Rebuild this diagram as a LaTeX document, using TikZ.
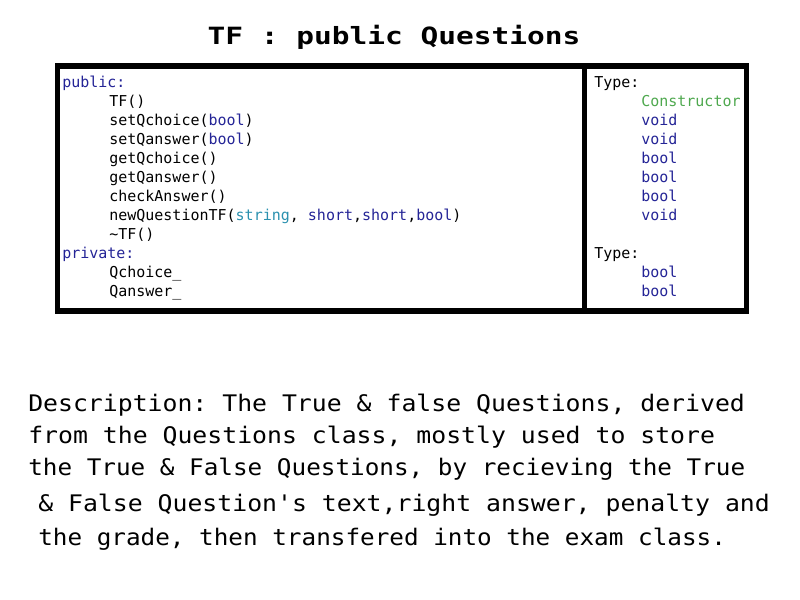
\documentclass[tikz,border=0pt]{standalone}
\usepackage{fontspec}
\usepackage{graphicx}
\setmonofont{DejaVu Sans Mono}
\definecolor{kw}{RGB}{36,36,150}
\definecolor{ty}{RGB}{43,145,175}
\definecolor{ctor}{RGB}{78,168,78}
\tikzset{
  code/.style={anchor=base west, inner sep=0pt, font=\ttfamily\fontsize{11.25pt}{13pt}\selectfont},
  desc/.style={anchor=base west, inner sep=0pt, font=\ttfamily\fontsize{18.6pt}{22pt}\selectfont},
  frame/.style={line width=3.8pt}
}
\begin{document}
\begin{tikzpicture}[x=0.75pt,y=-0.75pt]
\useasboundingbox (0,0) rectangle (800,600);
% title
\node[anchor=base, inner sep=0pt, font=\ttfamily\bfseries\fontsize{18.75pt}{22pt}\selectfont] (title) at (394,44) {\scalebox{1.18}[0.95]{TF : public Questions}};
% box
\draw[frame] (57.5,66) rectangle (746.5,311);
\coordinate (dtop) at (584.5,66);
\coordinate (dbot) at (584.5,311);
\draw[frame] (dtop) -- (dbot);
% left column
\node[code, text=kw] (pub) at (62,87) {public:};
\node[code] (m1) at (109,106) {TF()};
\node[code] (m2) at (109,125) {setQchoice(\textcolor{kw}{bool})};
\node[code] (m3) at (109,144) {setQanswer(\textcolor{kw}{bool})};
\node[code] (m4) at (109,163) {getQchoice()};
\node[code] (m5) at (109,182) {getQanswer()};
\node[code] (m6) at (109,201) {checkAnswer()};
\node[code] (m7) at (109,220) {newQuestionTF(\textcolor{ty}{string}, \textcolor{kw}{short},\textcolor{kw}{short},\textcolor{kw}{bool})};
\node[code] (m8) at (109,239) {\textasciitilde TF()};
\node[code, text=kw] (priv) at (62,258) {private:};
\node[code] (v1) at (109,277) {Qchoice\_};
\node[code] (v2) at (109,296) {Qanswer\_};
% right column
\node[code] (t0) at (594,87) {Type:};
\node[code, text=ctor] (t1) at (641,106) {Constructor};
\node[code, text=kw] (t2) at (641,125) {void};
\node[code, text=kw] (t3) at (641,144) {void};
\node[code, text=kw] (t4) at (641,163) {bool};
\node[code, text=kw] (t5) at (641,182) {bool};
\node[code, text=kw] (t6) at (641,201) {bool};
\node[code, text=kw] (t7) at (641,220) {void};
\node[code] (u0) at (594,258) {Type:};
\node[code, text=kw] (u1) at (641,277) {bool};
\node[code, text=kw] (u2) at (641,296) {bool};
% description
\node[desc] (d1) at (28,411.5) {\scalebox{1}[0.92]{Description: The True \& false Questions, derived}};
\node[desc] (d2) at (28,443) {\scalebox{1}[0.92]{from the Questions class, mostly used to store}};
\node[desc] (d3) at (28,475) {\scalebox{0.98}[0.92]{the True \& False Questions, by recieving the True}};
\node[desc] (d4) at (38,511.5) {\scalebox{1}[0.92]{\& False Question's text,right answer, penalty and}};
\node[desc] (d5) at (38,545) {\scalebox{0.98}[0.92]{the grade, then transfered into the exam class.}};
\end{tikzpicture}
\end{document}
